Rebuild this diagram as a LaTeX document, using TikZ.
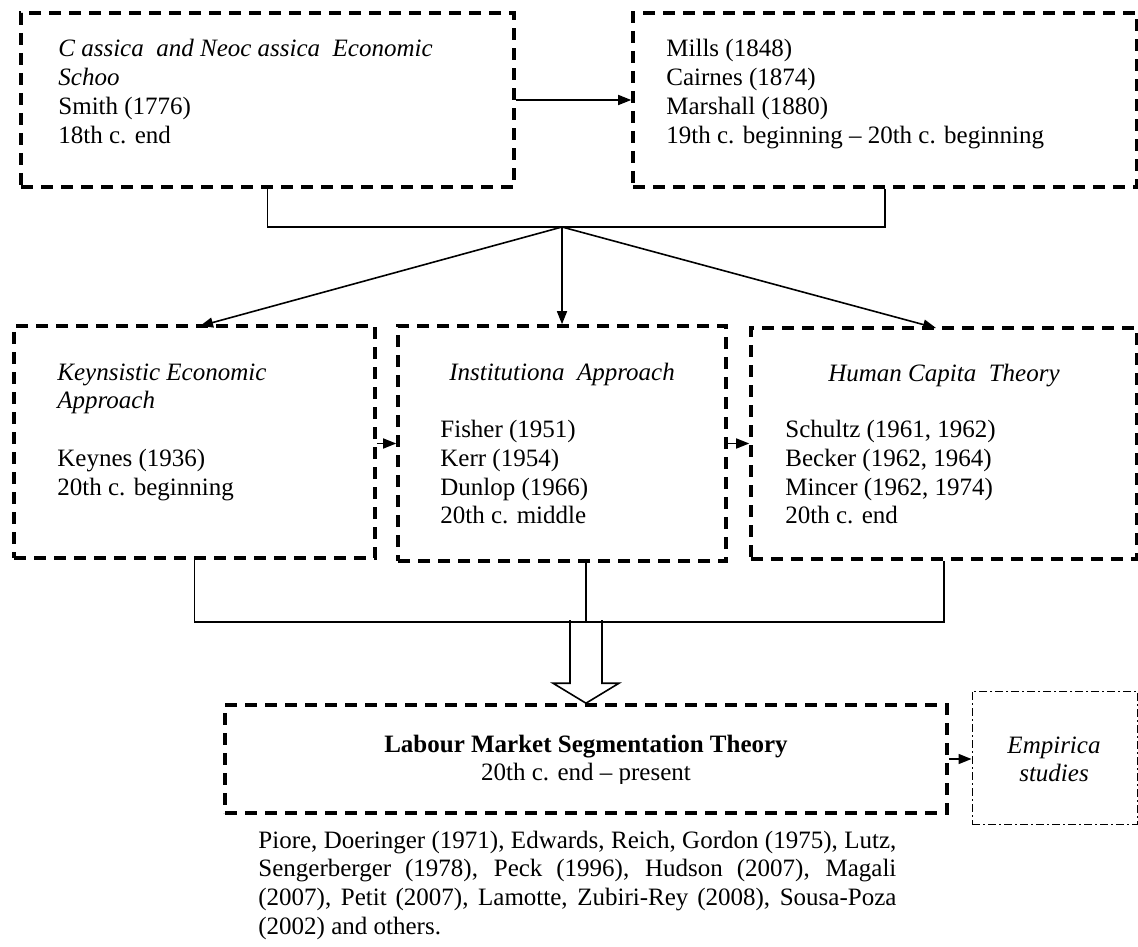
\documentclass[tikz,border=0pt]{standalone}
\usepackage{fontspec}
\setmainfont{Liberation Serif}
\usetikzlibrary{arrows.meta,fit,calc}
\newcommand\myfnt{\fontsize{12.5}{14.375}\selectfont}
\newcommand\lft[1]{\begin{tabular}[t]{@{}l@{}}#1\end{tabular}}
\newcommand\ctr[1]{\begin{tabular}[t]{@{}c@{}}#1\end{tabular}}
\tikzset{
  dbox/.style={draw, line width=1.8pt, dash pattern=on 6pt off 4pt, inner sep=0pt},
  ddbox/.style={draw, line width=0.5pt, dash pattern=on 4pt off 1.5pt on 1pt off 1.5pt, inner sep=0pt},
  conn/.style={line width=0.8pt},
  arr/.style={conn, -{Triangle[length=6.5pt,width=5pt]}},
  txt/.style={inner sep=0pt, anchor=base west, font=\myfnt},
  ctxt/.style={inner sep=0pt, anchor=base, font=\myfnt},
}
\begin{document}
\begin{tikzpicture}[x=0.5pt, y=-0.5pt]
\useasboundingbox (0,0) rectangle (1138,946);
% top boxes
\node[dbox, fit={(21,13) (514,187)}] (A) {};
\node[dbox, fit={(633,13) (1137,187)}] (B) {};
\node[txt] (At) at (58,57) {\lft{\textit{C\ assica\ \ and Neoc\ assica\ \ Economic}\\ \textit{Schoo}\\ Smith (1776)\\ 18th c. end}};
\node[txt] (Bt) at (666,57) {\lft{Mills (1848)\\ Cairnes (1874)\\ Marshall (1880)\\ 19th c. beginning -- 20th c. beginning}};
\draw[arr] (A.east) -- (B.west);
% middle boxes
\node[dbox, fit={(14,326) (375,558)}] (K) {};
\node[dbox, fit={(398,326) (726,561)}] (I) {};
\node[dbox, fit={(751,328) (1137,559)}] (H) {};
\node[txt] (Kt) at (57,380) {\lft{\textit{Keynsistic Economic}\\ \textit{Approach}\\ \\ Keynes (1936)\\ 20th c. beginning}};
\node[ctxt] (It) at (562,380) {\textit{Institutiona\ \ Approach}};
\node[txt] (Ib) at (440,437.5) {\lft{Fisher (1951)\\ Kerr (1954)\\ Dunlop (1966)\\ 20th c. middle}};
\node[ctxt] (Ht) at (944,381) {\textit{Human Capita\ \ Theory}};
\node[txt] (Hb) at (785,437.5) {\lft{Schultz (1961, 1962)\\ Becker (1962, 1964)\\ Mincer (1962, 1974)\\ 20th c. end}};
% top bracket and arrows
\coordinate (J) at (562,227);
\coordinate (kt) at (200,326);
\coordinate (ht) at (936,328);
\draw[conn] (A.south) -- (A.south |- J) -- (B.south |- J) -- (B.south);
\draw[arr] (J) -- (kt);
\draw[arr] (J) -- (I.north);
\draw[arr] (J) -- (ht);
\draw[arr] (K.east |- I.west) -- (I.west);
\draw[arr] (I.east) -- (I.east -| H.west);
% bottom boxes
\node[dbox, fit={(225,705) (947,813)}] (L) {};
\node[ddbox, fit={(972,691) (1137,824)}] (E) {};
\begin{scope}
\clip (225,700) rectangle (947,783);
\node[ctxt] (Lt) at (586,752) {\ctr{\textbf{Labour Market Segmentation Theory}\\ 20th c. end -- present}};
\end{scope}
\node[ctxt] (Et) at (1054,753) {\ctr{\textit{Empirica}\\ \textit{studies}}};
\draw[arr] (L.east) -- (E.west |- L.east);
% bottom bracket and hollow arrow
\coordinate (bar) at (0,622);
\draw[conn] (K.south) -- (K.south |- bar) -- (H.south |- bar) -- (H.south);
\draw[conn] (L.north |- I.south) -- (L.north |- bar);
\draw[conn] ($(L.north)+(-16,-83)$) -- ($(L.north)+(-16,-20)$) -- ($(L.north)+(-33,-20)$) -- (L.north) -- ($(L.north)+(33,-20)$) -- ($(L.north)+(16,-20)$) -- ($(L.north)+(16,-83)$);
% reference list
\node[txt] (P) at (258,848) {\parbox[t]{319pt}{\myfnt Piore, Doeringer (1971), Edwards, Reich, Gordon (1975), Lutz,\linebreak Sengerberger (1978), Peck (1996), Hudson (2007), Magali\linebreak (2007), Petit (2007), Lamotte, Zubiri-Rey (2008), Sousa-Poza\linebreak (2002) and others.}};
\end{tikzpicture}
\end{document}
